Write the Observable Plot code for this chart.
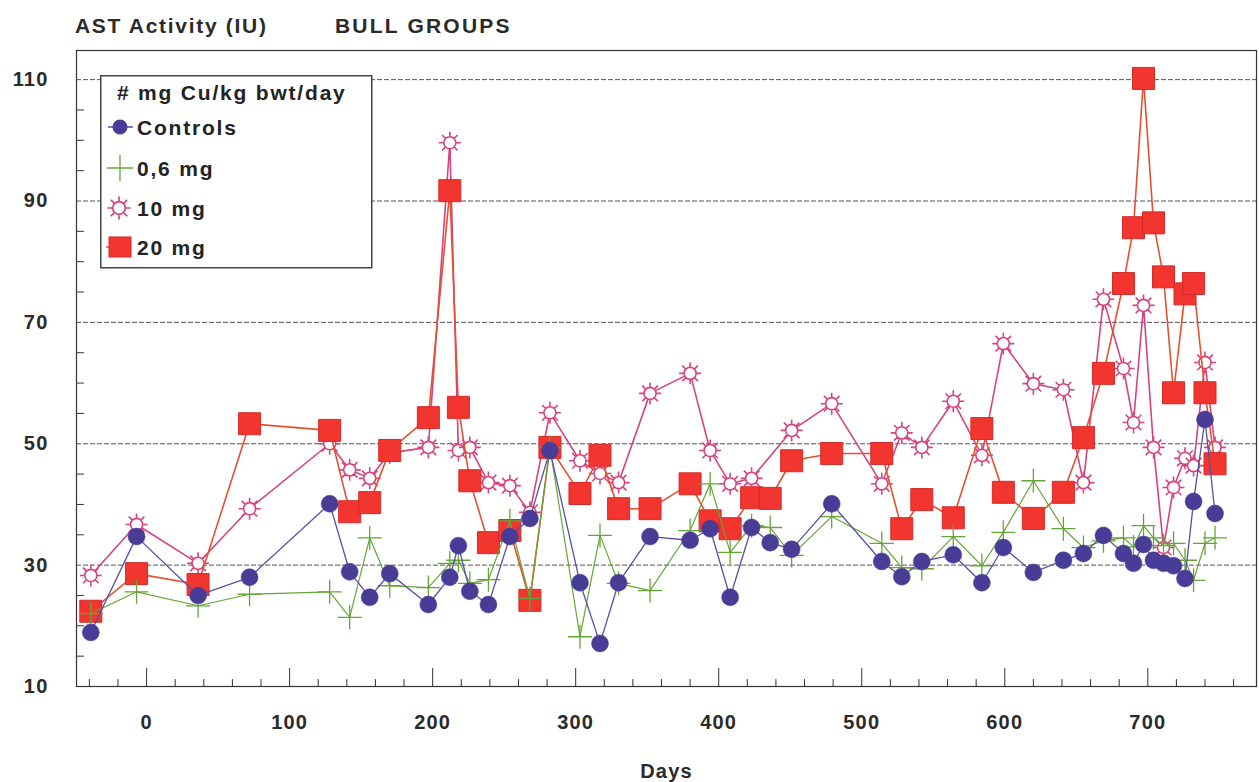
<!DOCTYPE html>
<html>
<head>
<meta charset="utf-8">
<script src="https://cdn.jsdelivr.net/npm/d3@7"></script>
<script src="https://cdn.jsdelivr.net/npm/@observablehq/plot@0.6"></script>
<style>
  html, body { margin: 0; padding: 0; background: #fff; }
  #wrap { position: relative; width: 1259px; height: 782px; font-family: "Liberation Sans", Arial, Helvetica, sans-serif; color: #2a2a2a; }
  #head { position: relative; height: 44px; }
  .t { position: absolute; top: 14px; font-size: 21px; font-weight: bold; letter-spacing: 1.7px; line-height: 24px; white-space: nowrap; }
  #chart svg text { letter-spacing: 1.2px; }
  #legend { position: absolute; left: 100px; top: 75px; }
  #legend text { font-family: "Liberation Sans", Arial, Helvetica, sans-serif; font-weight: bold; font-size: 21px; fill: #232323; letter-spacing: 1.8px; }
</style>
</head>
<body>
<div id="wrap">
  <div id="head">
    <div class="t" style="left:75px">AST Activity (IU)</div>
    <div class="t" style="left:335px;letter-spacing:2.2px">BULL GROUPS</div>
  </div>
  <div id="chart"></div>
  <div id="legend"></div>
</div>
<script>
// ---- data ----
const days = [-39, -7, 36, 72, 128, 142, 156, 170, 197, 212, 218, 226, 239, 254, 268, 282, 303, 317, 330, 352, 380, 394, 408, 423, 436, 451, 479, 514, 528, 542, 564, 584, 599, 620, 641, 655, 669, 683, 690, 697, 704, 711, 718, 726, 732, 740, 747];
const controls = [18.9, 34.7, 25.0, 28.0, 40.1, 28.9, 24.7, 28.6, 23.5, 28.0, 33.2, 25.7, 23.5, 34.7, 37.7, 48.9, 27.1, 17.1, 27.1, 34.7, 34.1, 36.0, 24.7, 36.2, 33.7, 32.6, 40.1, 30.6, 28.1, 30.6, 31.7, 27.1, 32.9, 28.8, 30.8, 31.9, 34.9, 31.9, 30.3, 33.4, 30.8, 30.3, 29.9, 27.8, 40.5, 54.0, 38.5];
const mg06 = [22.0, 25.6, 23.3, 25.2, 25.6, 21.4, 34.5, 26.6, 26.3, 30.3, 30.8, 27.0, 27.6, 37.3, 24.5, 49.4, 18.2, 34.9, 27.0, 25.8, 35.7, 43.4, 32.1, 36.5, 36.2, 31.6, 38.0, 33.6, 29.6, 29.4, 34.7, 29.9, 35.4, 43.9, 36.0, 32.9, 34.0, 34.5, 33.0, 36.5, 34.5, 33.2, 33.6, 30.8, 27.5, 33.6, 34.5];
const mg10 = [28.3, 36.7, 30.3, 39.3, 50.0, 45.7, 44.3, 48.5, 49.4, 99.6, 48.9, 49.4, 43.6, 43.1, 38.7, 55.1, 47.2, 45.1, 43.6, 58.3, 61.6, 48.9, 43.4, 44.3, null, 52.2, 56.6, 43.4, 51.8, 49.4, 57.0, 48.1, 66.5, 59.9, 58.9, 43.6, 73.8, 62.4, 53.5, 72.8, 49.4, 32.9, 42.8, 47.6, 46.4, 63.4, 49.4];
const mg20 = [22.4, 28.6, 26.8, 53.3, 52.2, 38.8, 40.3, 48.9, 54.3, 91.7, 56.0, 43.9, 33.7, 35.7, 24.2, 49.4, 41.8, 48.1, 39.3, 39.3, 43.4, 37.3, 36.0, 41.1, 41.0, 47.2, 48.4, 48.4, 36.0, 40.8, 37.8, 52.5, 42.0, 37.7, 42.0, 51.0, 61.6, 76.4, 85.6, 110.2, 86.4, 77.5, 58.4, 74.7, 76.4, 58.4, 46.7];
const seriesNames = ["Controls", "0,6 mg", "10 mg", "20 mg"];
const legendTitle = "# mg Cu/kg bwt/day";
const xTicks = [0, 100, 200, 300, 400, 500, 600, 700];
const xMinorTicks = [-40, -20, 20, 40, 60, 80, 120, 140, 160, 180, 220, 240, 260, 280, 320, 340, 360, 380, 420, 440, 460, 480, 520, 540, 560, 580, 620, 640, 660, 680, 720, 740, 760];
const yTicks = [10, 30, 50, 70, 90, 110];
const yGrid = [30, 50, 70, 90, 110];
const yMinorTicks = [15, 20, 25, 35, 40, 45, 55, 60, 65, 75, 80, 85, 95, 100, 105];
const xLabel = "Days";

// ---- symbols ----
const sunSymbol = {
  draw(ctx, size) {
    const r = Math.sqrt(size / Math.PI), rc = r * 0.55;
    ctx.moveTo(rc, 0); ctx.arc(0, 0, rc, 0, 2 * Math.PI);
    for (let k = 0; k < 8; k++) {
      const a = k * Math.PI / 4;
      ctx.moveTo(rc * Math.cos(a), rc * Math.sin(a));
      ctx.lineTo(r * Math.cos(a), r * Math.sin(a));
    }
  }
};
const plusSymbol = {
  draw(ctx, size) {
    const r = Math.sqrt(size / Math.PI);
    ctx.moveTo(-r, 0); ctx.lineTo(r, 0);
    ctx.moveTo(0, -r); ctx.lineTo(0, r);
  }
};
const squareSymbol = {
  draw(ctx, size) {
    const r = Math.sqrt(size / Math.PI);
    ctx.rect(-r, -r, 2 * r, 2 * r);
  }
};
const tickShape = { draw(ctx, l) { ctx.moveTo(0, 0); ctx.lineTo(0, -l); } };

const rows = vals => days.map((d, i) => ({day: d, v: vals[i]})).filter(r => r.v != null);

const C = {
  ctrlLine: "#5a4ea3", ctrlDot: "#493c96",
  green: "#64a636",
  pink: "#d6437d",
  redLine: "#e5512f", redFill: "#f2352f", redStroke: "#d42b28",
  ink: "#2a2a2a"
};

const chart = Plot.plot({
  width: 1259,
  height: 738,
  marginTop: 6,
  marginBottom: 96,
  marginLeft: 76,
  marginRight: 3,
  x: {domain: [-49, 776]},
  y: {domain: [10, 114.8]},
  style: {fontFamily: '"Liberation Sans", Arial, Helvetica, sans-serif', fontSize: "20px", fontWeight: "bold", color: C.ink, background: "transparent"},
  marks: [
    Plot.gridY(yGrid, {stroke: "#555", strokeOpacity: 1, strokeWidth: 1, strokeDasharray: "5,2"}),
    Plot.axisY(yTicks, {tickSize: 0, tickPadding: 28, label: null, fontSize: 20, fontWeight: "bold", fill: C.ink}),
    Plot.axisX(xTicks, {tickSize: 0, tickPadding: 28, label: null, fontSize: 20, fontWeight: "bold", fill: C.ink}),
    Plot.vector(xTicks, {x: d => d, frameAnchor: "bottom", length: 18, rotate: 0, anchor: "start", shape: tickShape, stroke: "#333", strokeWidth: 1}),
    Plot.vector(xMinorTicks, {x: d => d, frameAnchor: "bottom", length: 7, rotate: 0, anchor: "start", shape: tickShape, stroke: "#333", strokeWidth: 1}),
    Plot.vector(yMinorTicks, {y: d => d, frameAnchor: "left", length: 7, rotate: 90, anchor: "start", shape: tickShape, stroke: "#333", strokeWidth: 1}),
    Plot.text([xLabel], {text: d => d, frameAnchor: "bottom", lineAnchor: "top", dy: 77, fontSize: 20, fontWeight: "bold", fill: C.ink}),
    Plot.frame({stroke: "#333", strokeWidth: 1.2}),
    // 10 mg
    Plot.line(rows(mg10), {x: "day", y: "v", stroke: C.pink, strokeWidth: 1.6}),
    Plot.dot(rows(mg10), {x: "day", y: "v", symbol: sunSymbol, r: 11, fill: "white", stroke: C.pink, strokeWidth: 1.6}),
    // 20 mg
    Plot.line(rows(mg20), {x: "day", y: "v", stroke: C.redLine, strokeWidth: 1.6}),
    Plot.dot(rows(mg20), {x: "day", y: "v", symbol: squareSymbol, r: 11, fill: C.redFill, stroke: C.redStroke, strokeWidth: 1}),
    // 0,6 mg
    Plot.line(rows(mg06), {x: "day", y: "v", stroke: C.green, strokeWidth: 1.2}),
    Plot.dot(rows(mg06), {x: "day", y: "v", symbol: plusSymbol, r: 12, fill: "none", stroke: C.green, strokeWidth: 1.3}),
    // Controls
    Plot.line(rows(controls), {x: "day", y: "v", stroke: C.ctrlLine, strokeWidth: 1.3}),
    Plot.dot(rows(controls), {x: "day", y: "v", r: 8.5, fill: C.ctrlDot, stroke: C.ctrlDot, strokeWidth: 0.5})
  ]
});
document.getElementById("chart").append(chart);

// ---- legend ----
const lg = d3.select("#legend").append("svg").attr("width", 274).attr("height", 195);
lg.append("rect").attr("x", 0.75).attr("y", 0.75).attr("width", 271).attr("height", 192)
  .attr("fill", "#fff").attr("stroke", "#444").attr("stroke-width", 1.5);
lg.append("text").attr("x", 17).attr("y", 25).text(legendTitle);
const rowsY = [52, 93, 133, 172];
// Controls
lg.append("line").attr("x1", 8).attr("x2", 33).attr("y1", rowsY[0]).attr("y2", rowsY[0]).attr("stroke", C.ctrlLine).attr("stroke-width", 1.5);
lg.append("circle").attr("cx", 20).attr("cy", rowsY[0]).attr("r", 7.5).attr("fill", C.ctrlDot);
// 0,6 mg
lg.append("path").attr("d", d3.symbol(plusSymbol, 13 * 13 * Math.PI)()).attr("transform", `translate(20,${rowsY[1]})`).attr("fill", "none").attr("stroke", C.green).attr("stroke-width", 1.3);
// 10 mg
lg.append("path").attr("d", d3.symbol(sunSymbol, 11.5 * 11.5 * Math.PI)()).attr("transform", `translate(19,${rowsY[2]})`).attr("fill", "white").attr("stroke", C.pink).attr("stroke-width", 1.7);
// 20 mg
lg.append("line").attr("x1", 6).attr("x2", 20).attr("y1", rowsY[3]).attr("y2", rowsY[3]).attr("stroke", C.redLine).attr("stroke-width", 1.5);
lg.append("rect").attr("x", 9).attr("y", rowsY[3] - 10).attr("width", 22).attr("height", 20).attr("fill", C.redFill).attr("stroke", C.redStroke);
seriesNames.forEach((n, i) => {
  lg.append("text").attr("x", 37).attr("y", rowsY[i] + 7.5).text(n);
});
</script>
</body>
</html>
